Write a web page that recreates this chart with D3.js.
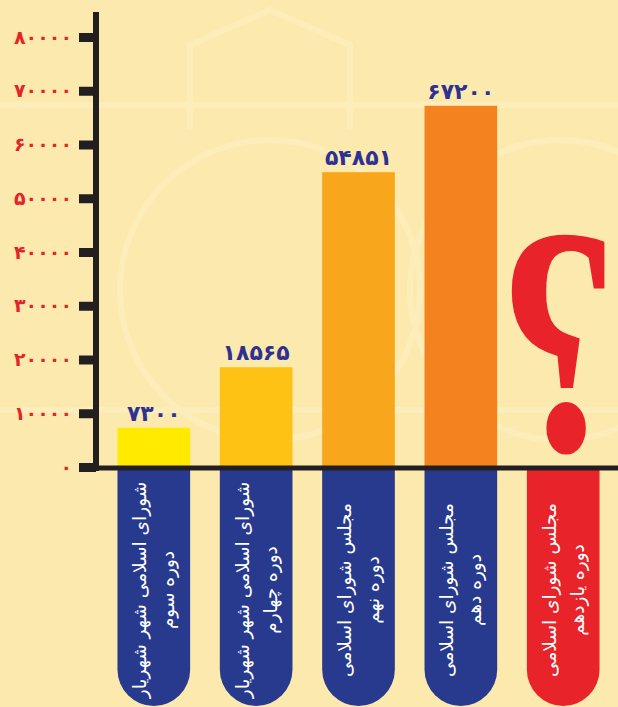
<!DOCTYPE html>
<html>
<head>
<meta charset="utf-8">
<script src="https://cdn.jsdelivr.net/npm/d3@7"></script>
<style>
  html, body { margin: 0; padding: 0; background: #fce9ae; }
  svg { display: block; }
</style>
</head>
<body>
<div id="chart-area"></div>
<script>
// data
let categories = [
    ["شورای اسلامی شهر شهریار", "دوره سوم"],
    ["شورای اسلامی شهر شهریار", "دوره چهارم"],
    ["مجلس شورای اسلامی", "دوره نهم"],
    ["مجلس شورای اسلامی", "دوره دهم"],
    ["مجلس شورای اسلامی", "دوره یازدهم"]
];
let values = [7300, 18565, 54851, 67200, null];
let barColors = ["#ffea00", "#fdc214", "#f8a61c", "#f3821f"];
let yTicks = [0, 10000, 20000, 30000, 40000, 50000, 60000, 70000, 80000];

let width = 618, height = 707;

// persian digits
let faDigits = "۰۱۲۳۴۵۶۷۸۹";
let toFa = v => String(v).replace(/\d/g, c => faDigits[+c]);

let svg = d3.select("#chart-area")
    .append("svg")
    .attr("width", width)
    .attr("height", height);

// background
svg.append("rect")
    .attr("width", width)
    .attr("height", height)
    .attr("fill", "#fce9ae");

// faint ornament in the background
let deco = svg.append("g")
    .attr("fill", "none")
    .attr("stroke", "#fff2c4")
    .attr("stroke-width", 6)
    .attr("opacity", 0.55);
deco.append("circle").attr("cx", 270).attr("cy", 290).attr("r", 150);
deco.append("circle").attr("cx", 560).attr("cy", 290).attr("r", 150);
deco.append("path").attr("d", "M190,130 V45 L270,10 L350,45 V130");
deco.append("path").attr("d", "M0,105 H618 M0,410 H618");

let ids = categories.map((c, i) => i);

// scales
let x = d3.scaleBand()
    .domain(ids)
    .range([97, 620])
    .paddingInner(0.29)
    .paddingOuter(0.2);
let y = d3.scaleLinear()
    .domain([0, 80000])
    .range([467, 37]);

let xAxisY = 468;

// pills under the axis
let pillTop = 470, pillBottom = 706;
let pills = svg.append("g");
ids.forEach(i => {
    let x0 = x(i), x1 = x(i) + x.bandwidth(), r = x.bandwidth() / 2;
    let cx = x0 + r;
    pills.append("path")
        .attr("d", `M${x0},${pillTop} H${x1} V${pillBottom - r} A${r},${r} 0 0 1 ${x0},${pillBottom - r} Z`)
        .attr("fill", values[i] == null ? "#e8232a" : "#283a8e");

    let lbl = pills.append("g")
        .attr("transform", `translate(${cx},590) rotate(-90)`);
    categories[i].forEach((line, j) => {
        lbl.append("text")
            .attr("x", 0)
            .attr("y", j === 0 ? -14 : 14)
            .attr("text-anchor", "middle")
            .attr("dominant-baseline", "central")
            .attr("direction", "rtl")
            .attr("font-family", "DejaVu Sans")
            .attr("font-size", "18.5px")
            .attr("fill", "#ffffff")
            .text(line);
    });
});

// bars
let known = ids.filter(i => values[i] != null);
svg.append("g").selectAll("rect")
    .data(known)
    .enter()
    .append("rect")
    .attr("x", i => x(i))
    .attr("width", x.bandwidth())
    .attr("y", i => y(values[i]))
    .attr("height", i => y(0) - y(values[i]))
    .attr("fill", i => barColors[i]);

// value labels
svg.append("g").selectAll("text")
    .data(known)
    .enter()
    .append("text")
    .attr("x", i => x(i) + x.bandwidth() / 2)
    .attr("y", i => y(values[i]) - 7)
    .attr("text-anchor", "middle")
    .attr("font-family", "DejaVu Sans")
    .attr("font-weight", "bold")
    .attr("font-size", "22px")
    .attr("fill", "#2e3192")
    .text(i => toFa(values[i]));

// question mark for the unknown one (mirrored, like the persian one)
ids.filter(i => values[i] == null).forEach(i => {
    svg.append("text")
        .attr("transform", `translate(${x(i) + x.bandwidth() / 2 - 5},450) scale(-0.75,1)`)
        .attr("text-anchor", "middle")
        .attr("font-family", "Liberation Serif")
        .attr("font-weight", "bold")
        .attr("font-size", "325px")
        .attr("fill", "#e8232a")
        .text("?");
});

// Y Axis
let yAxisCall = d3.axisLeft(y)
    .tickValues(yTicks)
    .tickSizeInner(17)
    .tickSizeOuter(0)
    .tickPadding(7)
    .tickFormat(toFa);
let yAxis = svg.append("g")
    .attr("transform", "translate(96,0)")
    .call(yAxisCall);
yAxis.select(".domain").remove();
yAxis.selectAll(".tick line")
    .attr("stroke", "#231f20")
    .attr("stroke-width", 9);
yAxis.selectAll(".tick text")
    .attr("font-family", "DejaVu Sans")
    .attr("font-weight", "bold")
    .attr("font-size", "19px")
    .attr("fill", "#e42527");

// axis lines
svg.append("line")
    .attr("x1", 96).attr("x2", 96)
    .attr("y1", 12).attr("y2", 471)
    .attr("stroke", "#231f20")
    .attr("stroke-width", 6);
svg.append("line")
    .attr("x1", 93).attr("x2", width)
    .attr("y1", xAxisY).attr("y2", xAxisY)
    .attr("stroke", "#231f20")
    .attr("stroke-width", 5);
</script>
</body>
</html>
